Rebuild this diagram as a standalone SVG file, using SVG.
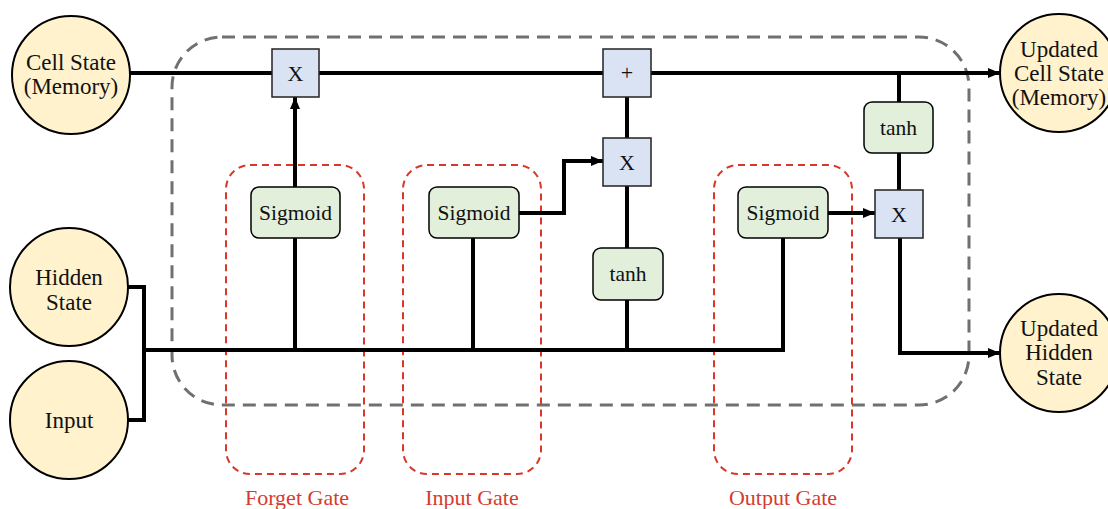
<svg xmlns="http://www.w3.org/2000/svg" width="1108" height="509" viewBox="0 0 1108 509">
  <defs>
    <marker id="arrow" viewBox="0 0 12 10" refX="12" refY="5" markerWidth="12" markerHeight="10" markerUnits="userSpaceOnUse" orient="auto">
      <path d="M0,0 L12,5 L0,10 Z" fill="#000"/>
    </marker>
    <style>
      text { font-family: "Liberation Serif", "DejaVu Serif", serif; fill: #111; text-anchor: middle; dominant-baseline: central; }
      .state { fill: #fff2cc; stroke: #000; stroke-width: 2; }
      .op { fill: #dae3f3; stroke: #222; stroke-width: 1.5; }
      .act { fill: #e2efda; stroke: #000; stroke-width: 1.5; }
      .wire { fill: none; stroke: #000; stroke-width: 4; }
      .cell { fill: none; stroke: #707070; stroke-width: 3; stroke-dasharray: 13 8; }
      .gate { fill: none; stroke: #d9372a; stroke-width: 2; stroke-dasharray: 7 5; }
      .gatelabel { fill: #d43c2f; font-size: 22px; }
      .big { font-size: 23px; }
      .mid { font-size: 21.5px; }
      .sym { font-size: 22px; }
    </style>
  </defs>

  <!-- LSTM cell boundary -->
  <rect class="cell" x="172" y="37" width="797" height="368" rx="50"/>

  <!-- gate regions -->
  <g id="forget-gate">
    <rect class="gate" x="226" y="165" width="138" height="309" rx="24"/>
    <text class="gatelabel" x="297" y="497">Forget Gate</text>
  </g>
  <g id="input-gate">
    <rect class="gate" x="403" y="165" width="138" height="309" rx="24"/>
    <text class="gatelabel" x="472" y="497">Input Gate</text>
  </g>
  <g id="output-gate">
    <rect class="gate" x="714" y="165" width="138" height="309" rx="24"/>
    <text class="gatelabel" x="783" y="497">Output Gate</text>
  </g>

  <!-- connectors -->
  <g id="connectors">
    <!-- cell state path -->
    <line class="wire" x1="130" y1="73" x2="272" y2="73"/>
    <line class="wire" x1="319" y1="73" x2="603" y2="73"/>
    <line class="wire" x1="651" y1="73" x2="1000" y2="73" marker-end="url(#arrow)"/>
    <!-- hidden state + input merge into bus -->
    <polyline class="wire" points="128,287 144,287 144,420 128,420"/>
    <line class="wire" x1="144" y1="350" x2="785" y2="350"/>
    <!-- forget gate -->
    <line class="wire" x1="295" y1="350" x2="295" y2="238"/>
    <line class="wire" x1="295" y1="187" x2="295" y2="97" marker-end="url(#arrow)"/>
    <!-- input gate -->
    <line class="wire" x1="473" y1="350" x2="473" y2="238"/>
    <polyline class="wire" points="519,213 564,213 564,161 603,161" marker-end="url(#arrow)"/>
    <!-- candidate -->
    <line class="wire" x1="627" y1="350" x2="627" y2="300"/>
    <line class="wire" x1="627" y1="248" x2="627" y2="186"/>
    <line class="wire" x1="627" y1="138" x2="627" y2="97"/>
    <!-- output gate -->
    <line class="wire" x1="783" y1="350" x2="783" y2="238"/>
    <line class="wire" x1="828" y1="213" x2="875" y2="213" marker-end="url(#arrow)"/>
    <!-- tanh of cell state to output -->
    <line class="wire" x1="899" y1="73" x2="899" y2="102"/>
    <line class="wire" x1="899" y1="153" x2="899" y2="190"/>
    <polyline class="wire" points="900,238 900,353 1000,353" marker-end="url(#arrow)"/>
  </g>

  <!-- states -->
  <g id="cell-state">
    <circle class="state" cx="71" cy="75" r="59"/>
    <text class="big" x="71" y="62">Cell State</text>
    <text class="big" x="71" y="86">(Memory)</text>
  </g>
  <g id="hidden-state">
    <circle class="state" cx="69" cy="287" r="59"/>
    <text class="big" x="69" y="277">Hidden</text>
    <text class="big" x="69" y="302">State</text>
  </g>
  <g id="input">
    <circle class="state" cx="69" cy="420" r="59"/>
    <text class="big" x="69" y="420">Input</text>
  </g>
  <g id="updated-cell-state">
    <circle class="state" cx="1059" cy="73" r="59"/>
    <text class="big" x="1059" y="49">Updated</text>
    <text class="big" x="1059" y="73">Cell State</text>
    <text class="big" x="1059" y="97">(Memory)</text>
  </g>
  <g id="updated-hidden-state">
    <circle class="state" cx="1059" cy="353" r="59"/>
    <text class="big" x="1059" y="328">Updated</text>
    <text class="big" x="1059" y="352">Hidden</text>
    <text class="big" x="1059" y="377">State</text>
  </g>

  <!-- pointwise operations -->
  <g id="forget-mul">
    <rect class="op" x="272" y="49" width="47" height="48"/>
    <text class="sym" x="295.5" y="73">X</text>
  </g>
  <g id="cell-add">
    <rect class="op" x="603" y="49" width="48" height="48"/>
    <text class="sym" x="627" y="72">+</text>
  </g>
  <g id="input-mul">
    <rect class="op" x="603" y="138" width="48" height="48"/>
    <text class="sym" x="627" y="162">X</text>
  </g>
  <g id="output-mul">
    <rect class="op" x="875" y="190" width="48" height="48"/>
    <text class="sym" x="899" y="214">X</text>
  </g>

  <!-- activation layers -->
  <g id="forget-sigmoid">
    <rect class="act" x="251" y="187" width="89" height="51" rx="8"/>
    <text class="mid" x="295.5" y="213">Sigmoid</text>
  </g>
  <g id="input-sigmoid">
    <rect class="act" x="429" y="187" width="90" height="51" rx="8"/>
    <text class="mid" x="474" y="213">Sigmoid</text>
  </g>
  <g id="candidate-tanh">
    <rect class="act" x="593" y="248" width="70" height="52" rx="8"/>
    <text class="mid" x="628" y="274">tanh</text>
  </g>
  <g id="output-sigmoid">
    <rect class="act" x="738" y="187" width="90" height="51" rx="8"/>
    <text class="mid" x="783" y="213">Sigmoid</text>
  </g>
  <g id="cell-tanh">
    <rect class="act" x="864" y="102" width="69" height="51" rx="8"/>
    <text class="mid" x="898.5" y="128">tanh</text>
  </g>
</svg>
